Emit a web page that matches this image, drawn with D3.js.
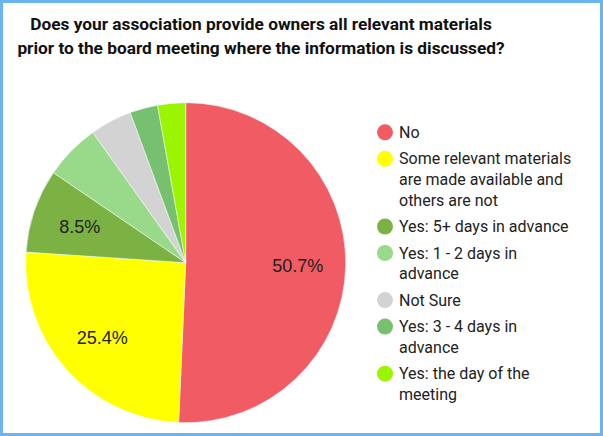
<!DOCTYPE html>
<html><head><meta charset="utf-8">
<script src="https://cdn.jsdelivr.net/npm/d3@7"></script>
<style>
html,body{margin:0;padding:0;background:#fff;}
svg{display:block;}
</style></head>
<body>
<svg id="c" width="603" height="436"></svg>
<script>
const categories = ["No","Some relevant materials are made available and others are not","Yes: 5+ days in advance","Yes: 1 - 2 days in advance","Not Sure","Yes: 3 - 4 days in advance","Yes: the day of the meeting"];
const legendLines = [["No"],["Some relevant materials","are made available and","others are not"],["Yes: 5+ days in advance"],["Yes: 1 - 2 days in","advance"],["Not Sure"],["Yes: 3 - 4 days in","advance"],["Yes: the day of the","meeting"]];
const values = [36,18,6,4,3,2,2];
const colors = ["#f15b63","#ffff00","#7cb244","#98d98a","#d3d3d3","#76c06f","#9cf500"];
const titleLines = ["Does your association provide owners all relevant materials","prior to the board meeting where the information is discussed?"];

const svg = d3.select("#c");
const font = "Roboto, 'Open Sans', sans-serif";

svg.append("rect").attr("x",1.5).attr("y",1.5).attr("width",600).attr("height",433)
  .attr("fill","#fff").attr("stroke","#6ab4f0").attr("stroke-width",3);

svg.append("g").selectAll("text").data(titleLines).join("text")
  .attr("x",261).attr("y",(d,i)=>30+i*24)
  .attr("text-anchor","middle").attr("font-family",font).attr("font-weight","bold")
  .attr("font-size",17.3).attr("fill","#111").text(d=>d);

const cx=185.7, cy=262.7, r=160;
const total = d3.sum(values);
const pie = d3.pie().sort(null).value(d=>d)(values);
const arc = d3.arc().innerRadius(0).outerRadius(r);
const labelArc = d3.arc().innerRadius(r*0.7).outerRadius(r*0.7);
const g = svg.append("g").attr("transform",`translate(${cx},${cy})`);
g.selectAll("path").data(pie).join("path").attr("d",arc)
  .attr("fill",(d,i)=>colors[i]).attr("stroke","#fff").attr("stroke-width",0.5);
g.selectAll("text").data(pie.filter(d=>d.data/total>=0.08)).join("text")
  .attr("transform",d=>`translate(${labelArc.centroid(d)})`)
  .attr("text-anchor","middle").attr("dy","0.36em")
  .attr("font-family","'Liberation Sans', Arial, sans-serif").attr("font-size",18).attr("fill","#222")
  .text(d=>(d.data/total*100).toFixed(1)+"%");

const leg = svg.append("g");
let y = 132.3;
legendLines.forEach((lines,i)=>{
  const it = leg.append("g");
  it.append("circle").attr("cx",385).attr("cy",y).attr("r",8).attr("fill",colors[i]);
  it.append("text").attr("x",399).attr("font-family",font).attr("font-size",16).attr("fill","#222")
    .selectAll("tspan").data(lines).join("tspan").attr("x",399).attr("y",(d,j)=>y+5.6+j*20.6).text(d=>d);
  y += 26.5 + (lines.length-1)*20.6;
});
</script>
</body></html>
